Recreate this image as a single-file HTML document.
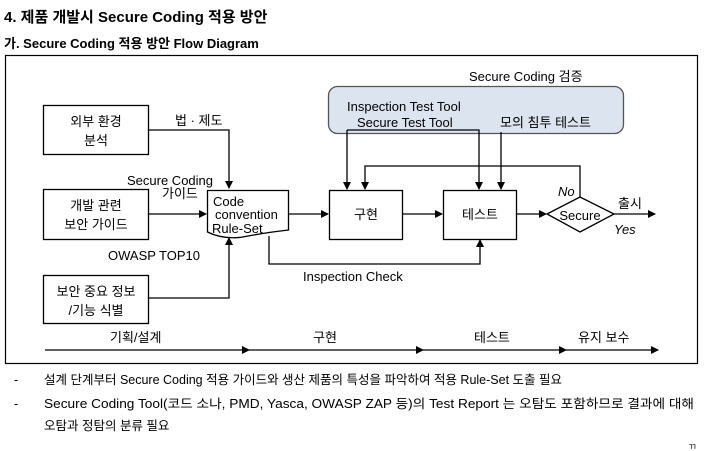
<!DOCTYPE html>
<html><head><meta charset="utf-8"><style>
body{margin:0;width:711px;height:451px;background:#fff;overflow:hidden}
svg{display:block}
text{font-family:"Liberation Sans","Noto Sans CJK KR",sans-serif;fill:#000}
</style></head><body>
<svg width="711" height="451" viewBox="0 0 711 451">
<defs><marker id="a" markerWidth="8" markerHeight="8" refX="7" refY="4" orient="auto" markerUnits="userSpaceOnUse"><path d="M0,0 L8,4 L0,8 z" fill="#000"/></marker></defs>
<text x="4" y="22" font-size="15" font-weight="bold">4. 제품 개발시 Secure Coding 적용 방안</text>
<text x="4" y="48" font-size="13" font-weight="bold">가. Secure Coding 적용 방안 Flow Diagram</text>
<rect x="5.5" y="55.5" width="692" height="308" fill="none" stroke="#000" stroke-width="1.2"/>
<g fill="none" stroke="#000" stroke-width="1.3">
<rect x="43.5" y="105.5" width="105" height="49" fill="#fff"/>
<rect x="43.5" y="189.5" width="105" height="50" fill="#fff"/>
<rect x="43.5" y="275.5" width="105" height="48" fill="#fff"/>
<path d="M207.5,190.5 H288.5 V230 Q270,232 248,236 Q226,241 207.5,232 Z" fill="#fff"/>
<rect x="328.5" y="86.5" width="295" height="47" rx="9" fill="#dbe4ef" stroke="#555"/>
<rect x="329.5" y="190.5" width="73" height="49" fill="#fff"/>
<rect x="443.5" y="190.5" width="73" height="49" fill="#fff"/>
<path d="M547,214 L580,197 L614,214 L580,232 Z" fill="#fff"/>
<path d="M148,130 H229 V188" marker-end="url(#a)"/>
<path d="M148,214 H206" marker-end="url(#a)"/>
<path d="M148,298 H229 V238" marker-end="url(#a)"/>
<path d="M289,214 H328" marker-end="url(#a)"/>
<path d="M402,214 H442" marker-end="url(#a)"/>
<path d="M516,214 H546" marker-end="url(#a)"/>
<path d="M614,214 H655" marker-end="url(#a)"/>
<path d="M347,130 H479 V189" marker-end="url(#a)"/>
<path d="M347,130 V189" marker-end="url(#a)"/>
<path d="M501,132 V189" marker-end="url(#a)"/>
<path d="M580,197 V166 H365 V189" marker-end="url(#a)"/>
<path d="M269,236 V264 H480 V240" marker-end="url(#a)"/>
<path d="M45,350 H249" marker-end="url(#a)"/>
<path d="M249,350 H423" marker-end="url(#a)"/>
<path d="M423,350 H566" marker-end="url(#a)"/>
<path d="M566,350 H658" marker-end="url(#a)"/>
</g>
<g font-size="13">
<text x="96" y="126" text-anchor="middle">외부 환경</text>
<text x="96" y="145" text-anchor="middle">분석</text>
<text x="96" y="210" text-anchor="middle">개발 관련</text>
<text x="96" y="229" text-anchor="middle">보안 가이드</text>
<text x="96" y="296" text-anchor="middle">보안 중요 정보</text>
<text x="96" y="315" text-anchor="middle">/기능 식별</text>
<text x="175" y="125">법 · 제도</text>
<text x="127" y="185">Secure Coding</text>
<text x="162" y="198">가이드</text>
<text x="213" y="206">Code</text>
<text x="215" y="219">convention</text>
<text x="212" y="233">Rule-Set</text>
<text x="108" y="260">OWASP TOP10</text>
<text x="303" y="281">Inspection Check</text>
<text x="469" y="81">Secure Coding 검증</text>
<text x="347" y="111">Inspection Test Tool</text>
<text x="357" y="127">Secure Test Tool</text>
<text x="500" y="127">모의 침투 테스트</text>
<text x="366" y="219" text-anchor="middle">구현</text>
<text x="480" y="219" text-anchor="middle">테스트</text>
<text x="580" y="220" text-anchor="middle">Secure</text>
<text x="558" y="196" font-style="italic">No</text>
<text x="614" y="234" font-style="italic">Yes</text>
<text x="618" y="208">출시</text>
<text x="110" y="342">기획/설계</text>
<text x="313" y="342">구현</text>
<text x="474" y="342">테스트</text>
<text x="578" y="342">유지 보수</text>
</g>
<g font-size="12.5">
<text x="14" y="384">-</text>
<text x="44" y="384">설계 단계부터 Secure Coding 적용 가이드와 생산 제품의 특성을 파악하여 적용 Rule-Set 도출 필요</text>
<text x="14" y="408">-</text>
<text x="44" y="408" textLength="650" lengthAdjust="spacingAndGlyphs">Secure Coding Tool(코드 소나, PMD, Yasca, OWASP ZAP 등)의 Test Report 는 오탐도 포함하므로 결과에 대해</text>
<text x="44" y="430">오탐과 정탐의 분류 필요</text>
<text x="688" y="450" font-size="9">ㄲ</text>
</g>
</svg>
</body></html>
